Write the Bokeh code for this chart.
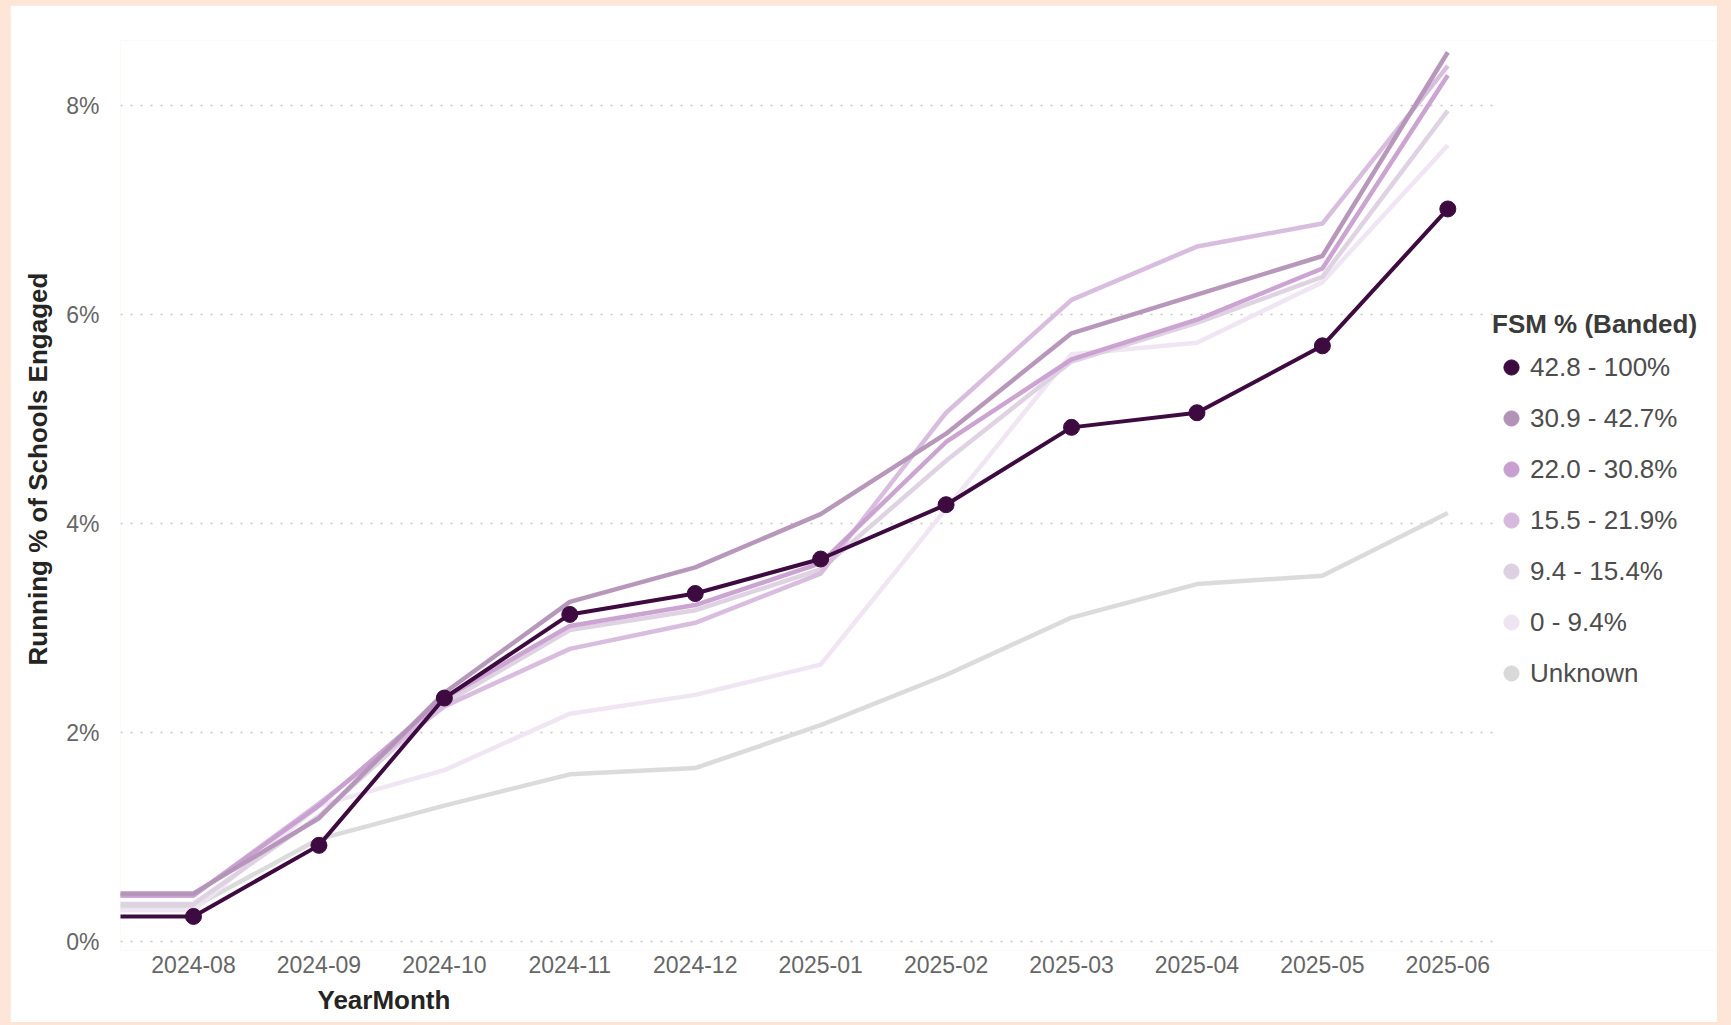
from bokeh.plotting import figure
from bokeh.models import (Range1d, FixedTicker, Legend, LegendItem, Title,
                          ColumnDataSource)
from bokeh.embed import file_html
from bokeh.resources import INLINE

# ---------------- data ----------------
months = ["2024-07", "2024-08", "2024-09", "2024-10", "2024-11", "2024-12",
          "2025-01", "2025-02", "2025-03", "2025-04", "2025-05", "2025-06"]
band_labels = ["42.8 - 100%", "30.9 - 42.7%", "22.0 - 30.8%", "15.5 - 21.9%",
               "9.4 - 15.4%", "0 - 9.4%", "Unknown"]
band_colors = ["#3d0b40", "#b392b7", "#c89fd0", "#d6b9dd", "#ddd0e2",
               "#efe4f1", "#d9d9d9"]
fsm_42_100 = [0.24, 0.24, 0.92, 2.33, 3.13, 3.33, 3.66, 4.18, 4.92, 5.06, 5.70, 7.01]
fsm_31_43 = [0.46, 0.46, 1.18, 2.38, 3.25, 3.58, 4.09, 4.86, 5.82, 6.19, 6.56, 8.51]
fsm_22_31 = [0.44, 0.44, 1.30, 2.33, 3.02, 3.22, 3.62, 4.78, 5.57, 5.95, 6.44, 8.29]
fsm_15_22 = [0.44, 0.44, 1.32, 2.25, 2.80, 3.05, 3.52, 5.06, 6.14, 6.65, 6.87, 8.38]
fsm_09_15 = [0.36, 0.36, 1.20, 2.28, 2.98, 3.17, 3.56, 4.60, 5.55, 5.92, 6.36, 7.95]
fsm_00_09 = [0.30, 0.30, 1.30, 1.64, 2.18, 2.36, 2.65, 4.14, 5.62, 5.73, 6.31, 7.62]
fsm_unknown = [0.33, 0.33, 0.98, 1.30, 1.60, 1.66, 2.07, 2.55, 3.10, 3.42, 3.50, 4.10]
series = [fsm_42_100, fsm_31_43, fsm_22_31, fsm_15_22, fsm_09_15, fsm_00_09, fsm_unknown]
y_ticks = [0, 2, 4, 6, 8]

xs = [i - 1 for i in range(len(months))]  # first month lies left of the visible axis

# ---------------- figure ----------------
W, H = 1707, 1017
X_START, X_DATA_END, X_END = -0.582, 10.375, 12.15
p = figure(width=W, height=H, output_backend="svg", toolbar_location=None,
           x_range=Range1d(X_START, X_END), y_range=Range1d(-0.086, 8.622),
           min_border_left=109, min_border_right=0, min_border_top=35,
           min_border_bottom=72, background_fill_color="white",
           border_fill_color="white", outline_line_color=None)
p.margin = (5, 0, 0, 10)

# dotted horizontal gridlines that stop where the plotting area ends (legend sits to the right)
p.xgrid.grid_line_color = None
p.ygrid.grid_line_color = None
p.segment(x0=[X_START] * len(y_ticks), x1=[X_DATA_END] * len(y_ticks),
          y0=y_ticks, y1=y_ticks, line_color="#c8c6c4", line_dash="2 8",
          line_width=1.5)

p.xaxis.ticker = FixedTicker(ticks=list(range(len(months) - 1)))
p.xaxis.major_label_overrides = {i: m for i, m in enumerate(months[1:])}
p.yaxis.ticker = FixedTicker(ticks=y_ticks)
p.yaxis.major_label_overrides = {t: f"{t}%" for t in y_ticks}
for ax in (p.xaxis[0], p.yaxis[0]):
    ax.axis_line_color = None
    ax.major_tick_line_color = None
    ax.minor_tick_line_color = None
    ax.major_tick_out = 0
    ax.major_tick_in = 0
    ax.major_label_text_font = "Liberation Sans"
    ax.major_label_text_font_size = "23px"
    ax.major_label_text_color = "#666666"
p.xaxis.major_label_standoff = 5
p.yaxis.major_label_standoff = 21

# lines, drawn from the lightest band to the darkest
legend_renderers = {}
for idx in reversed(range(len(series))):
    vals = series[idx]
    col = band_colors[idx]
    src = ColumnDataSource(dict(x=xs, y=vals))
    if idx == 0:
        p.line("x", "y", source=src, line_color=col, line_width=4)
        r = p.scatter("x", "y", source=ColumnDataSource(dict(x=xs[1:], y=vals[1:])),
                      size=16, fill_color=col, line_color=col)
    else:
        p.line("x", "y", source=src, line_color=col, line_width=4.5, line_alpha=0.95)
        # hidden marker renderer, used only for the round legend swatch
        r = p.scatter("x", "y", source=src, size=15, fill_color=col,
                      line_color=col, visible=False)
    legend_renderers[idx] = r

items = [LegendItem(label=band_labels[i], renderers=[legend_renderers[i]], index=0)
         for i in range(len(series))]
legend = Legend(items=items, location=(1372, 258), glyph_width=38, glyph_height=38,
                spacing=13, padding=0, margin=0, label_standoff=0,
                border_line_color=None, background_fill_alpha=0,
                inactive_fill_alpha=0,
                label_text_font="Liberation Sans", label_text_font_size="26px",
                label_text_color="#4d4d4d",
                title="FSM % (Banded)", title_text_font="Liberation Sans",
                title_text_font_size="26px", title_text_font_style="bold",
                title_text_color="#3b3b3b", title_standoff=8)
p.add_layout(legend, "center")

p.add_layout(Title(text="Running % of Schools Engaged", align="left", offset=285,
                   text_font="Liberation Sans", text_font_size="26px",
                   text_font_style="bold", text_color="#252423", standoff=21), "left")
p.add_layout(Title(text="YearMonth", align="left", offset=197,
                   text_font="Liberation Sans", text_font_size="26px",
                   text_font_style="bold", text_color="#252423", standoff=15), "below")

html = file_html(p, INLINE)
html = html.replace("</head>",
                    "<style>html, body { background-color: #fde5d8 !important; }</style>\n</head>", 1)
open("out.html", "w").write(html)
